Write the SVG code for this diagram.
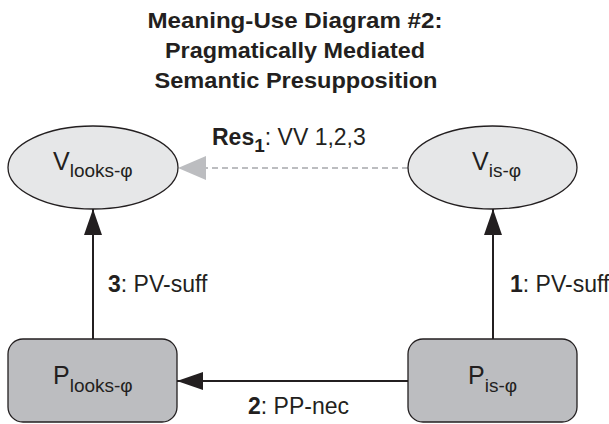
<svg xmlns="http://www.w3.org/2000/svg" width="609" height="424" viewBox="0 0 609 424">
  <style>
    text { font-family: "Liberation Sans", Arial, Helvetica, sans-serif; fill: #231f20; }
    .title { font-size: 22px; font-weight: bold; text-anchor: middle; }
    .v-node { fill: #e6e7e8; stroke: #231f20; stroke-width: 1.3; }
    .p-node { fill: #bcbdc0; stroke: #231f20; stroke-width: 1.3; }
    .main { font-size: 25px; }
    .sub { font-size: 19px; }
    .lbl { font-size: 23px; }
    .b { font-weight: bold; }
    .edge { stroke: #231f20; stroke-width: 2; fill: none; }
    .res { stroke: #bcbdc0; stroke-width: 2; stroke-dasharray: 6 4; fill: none; }
  </style>
  <defs>
    <marker id="arrow" markerUnits="userSpaceOnUse" markerWidth="26" markerHeight="18" refX="26" refY="9" orient="auto">
      <path d="M0,0 L26,9 L0,18 Z" fill="#231f20"/>
    </marker>
    <marker id="arrow-gray" markerUnits="userSpaceOnUse" markerWidth="28" markerHeight="24" refX="28" refY="12" orient="auto">
      <path d="M0,0 L28,12 L0,24 Z" fill="#bcbdc0"/>
    </marker>
  </defs>

  <g id="title">
    <text class="title" x="295" y="28" textLength="295" lengthAdjust="spacingAndGlyphs">Meaning-Use Diagram #2:</text>
    <text class="title" x="295" y="58" textLength="260" lengthAdjust="spacingAndGlyphs">Pragmatically Mediated</text>
    <text class="title" x="296" y="88" textLength="283" lengthAdjust="spacingAndGlyphs">Semantic Presupposition</text>
  </g>

  <g id="connectors">
    <!-- Res1: V_is -> V_looks (dashed) -->
    <line class="res" x1="408" y1="168" x2="178" y2="168" marker-end="url(#arrow-gray)"/>
    <text class="lbl" x="212" y="145"><tspan class="b">Res</tspan><tspan class="b sub" dy="7">1</tspan><tspan dy="-7">: VV 1,2,3</tspan></text>
    <!-- 3: P_looks -> V_looks -->
    <line class="edge" x1="93" y1="339" x2="93" y2="209" marker-end="url(#arrow)"/>
    <text class="lbl" x="108" y="292"><tspan class="b">3</tspan>: PV-suff</text>
    <!-- 1: P_is -> V_is -->
    <line class="edge" x1="493" y1="339" x2="493" y2="209" marker-end="url(#arrow)"/>
    <text class="lbl" x="510" y="292"><tspan class="b">1</tspan>: PV-suff</text>
    <!-- 2: P_is -> P_looks -->
    <line class="edge" x1="408" y1="381" x2="177" y2="381" marker-end="url(#arrow)"/>
    <text class="lbl" x="248" y="414"><tspan class="b">2</tspan>: PP-nec</text>
  </g>

  <g id="v-looks">
    <ellipse class="v-node" cx="93" cy="167.5" rx="85" ry="41.5"/>
    <text x="53" y="170"><tspan class="main">V</tspan><tspan class="sub" dy="7">looks-φ</tspan></text>
  </g>

  <g id="v-is">
    <ellipse class="v-node" cx="492.5" cy="167.5" rx="84.5" ry="41.5"/>
    <text x="472" y="170"><tspan class="main">V</tspan><tspan class="sub" dy="7">is-φ</tspan></text>
  </g>

  <g id="p-looks">
    <rect class="p-node" x="8" y="339" width="169" height="83" rx="15" ry="15"/>
    <text x="53" y="384"><tspan class="main">P</tspan><tspan class="sub" dy="8">looks-φ</tspan></text>
  </g>

  <g id="p-is">
    <rect class="p-node" x="408" y="339" width="169" height="83" rx="15" ry="15"/>
    <text x="468" y="384"><tspan class="main">P</tspan><tspan class="sub" dy="8">is-φ</tspan></text>
  </g>
</svg>
